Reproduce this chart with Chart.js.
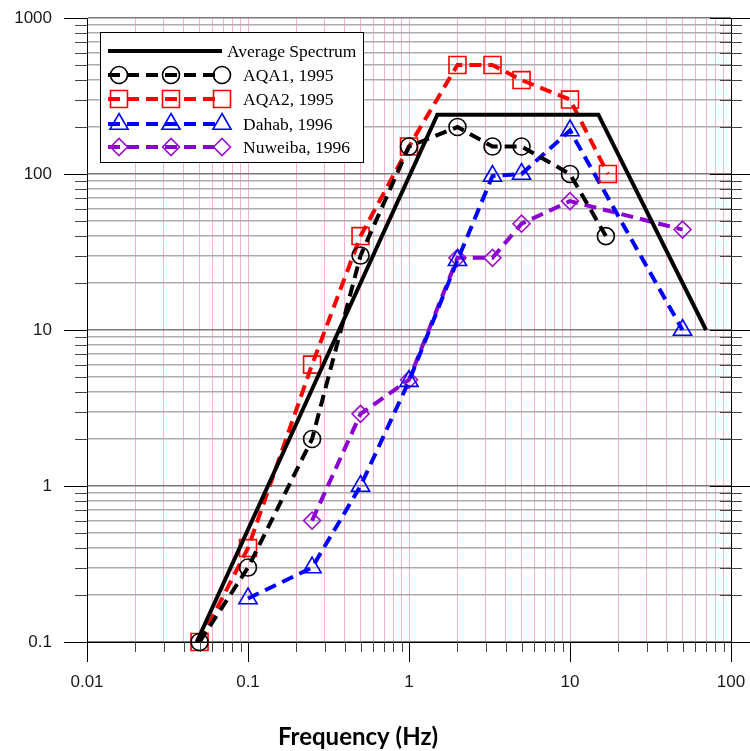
<!DOCTYPE html>
<html>
<head>
<meta charset="utf-8">
<title>Spectrum</title>
<script src="https://cdn.jsdelivr.net/npm/chart.js@4.4.1/dist/chart.umd.min.js"></script>
<style>
html, body { margin: 0; padding: 0; background: #fff; }
</style>
</head>
<body>
<canvas id="spectrumChart" width="750" height="751"></canvas>
<script>
// values
const avgFreq = [0.048, 1.5, 15, 70];
const avgAmp = [0.1, 240, 240, 10];
const aqa1Freq = [0.05, 0.1, 0.25, 0.5, 1, 2, 3.3, 5, 10, 16.7];
const aqa1Amp = [0.1, 0.3, 2, 30, 150, 200, 150, 150, 100, 40];
const aqa2Freq = [0.05, 0.1, 0.25, 0.5, 1, 2, 3.3, 5, 10, 17.2];
const aqa2Amp = [0.1, 0.4, 6, 40, 150, 500, 500, 400, 300, 100];
const dahabFreq = [0.1, 0.25, 0.5, 1, 2, 3.3, 5, 10, 50];
const dahabAmp = [0.19, 0.3, 1, 4.7, 28, 97, 100, 190, 10];
const nuweibaFreq = [0.25, 0.5, 1, 2, 3.3, 5, 10, 50];
const nuweibaAmp = [0.6, 2.9, 4.8, 29, 29, 48, 67, 44];
const seriesNames = ['Average Spectrum', 'AQA1, 1995', 'AQA2, 1995', 'Dahab, 1996', 'Nuweiba, 1996'];
const xTickLabels = ['0.01', '0.1', '1', '10', '100'];
const yTickLabels = ['0.1', '1', '10', '100', '1000'];
const xAxisTitle = 'Frequency (Hz)';

function toPoints(xs, ys) {
	return xs.map((v, i) => ({ x: v, y: ys[i] }));
}

// 1..9 in every decade between two labels
function logTicks(labels) {
	let vals = [];
	let lo = Math.log10(parseFloat(labels[0]));
	let hi = Math.log10(parseFloat(labels[labels.length - 1]));
	for (let e = lo; e < hi; e++) {
		for (let m = 1; m < 10; m++) vals.push(parseFloat((m * Math.pow(10, e)).toPrecision(3)));
	}
	vals.push(parseFloat(labels[labels.length - 1]));
	return vals;
}
function isDecade(v) {
	let l = Math.log10(v);
	return Math.abs(l - Math.round(l)) < 1e-6;
}

const dash = [12, 7];
const purple = '#8a00d0';

function markerSet(color, style, r) {
	return {
		pointStyle: style,
		pointRadius: r,
		pointHoverRadius: r,
		pointBorderColor: color,
		pointBackgroundColor: 'rgba(0,0,0,0)',
		pointBorderWidth: 1.6
	};
}

const datasets = [
	Object.assign({ label: seriesNames[0], data: toPoints(avgFreq, avgAmp), borderColor: '#000', borderWidth: 4, pointRadius: 0 }),
	Object.assign({ label: seriesNames[1], data: toPoints(aqa1Freq, aqa1Amp), borderColor: '#000', borderWidth: 4, borderDash: dash }, markerSet('#000', 'circle', 8.5)),
	Object.assign({ label: seriesNames[2], data: toPoints(aqa2Freq, aqa2Amp), borderColor: '#ff0000', borderWidth: 4, borderDash: dash }, markerSet('#ff0000', 'rect', 12)),
	Object.assign({ label: seriesNames[3], data: toPoints(dahabFreq, dahabAmp), borderColor: '#0000ff', borderWidth: 4, borderDash: dash }, markerSet('#0000ff', 'triangle', 10.5)),
	Object.assign({ label: seriesNames[4], data: toPoints(nuweibaFreq, nuweibaAmp), borderColor: purple, borderWidth: 4, borderDash: dash }, markerSet('#9a10cc', 'rectRot', 8.5))
];
datasets.forEach(d => { d.fill = false; d.tension = 0; d.clip = false; });

function crisp(v) { return Math.round(v) + 0.5; }
function seg(ctx, x1, y1, x2, y2) {
	ctx.beginPath();
	ctx.moveTo(x1, y1);
	ctx.lineTo(x2, y2);
	ctx.stroke();
}
function noPad(s) {
	s.paddingTop = 0; s.paddingBottom = 0; s.paddingLeft = 0; s.paddingRight = 0;
}

// tick marks: outward on left, downward on bottom, crossing on right
const axisTicks = {
	id: 'axisTicks',
	afterDraw(chart) {
		const ctx = chart.ctx;
		const a = chart.chartArea;
		const sx = chart.scales.x, sy = chart.scales.y;
		ctx.save();
		ctx.lineWidth = 1;
		ctx.strokeStyle = '#000';
		seg(ctx, crisp(a.right), a.top, crisp(a.right), a.bottom + 20);
		seg(ctx, crisp(a.left), a.top, crisp(a.left), a.bottom + 20);
		sx.ticks.forEach(t => {
			let px = crisp(sx.getPixelForValue(t.value));
			let major = isDecade(t.value);
			ctx.strokeStyle = major ? '#000' : '#444';
			seg(ctx, px, a.bottom, px, a.bottom + (major ? 20 : 10));
		});
		sy.ticks.forEach(t => {
			let py = crisp(sy.getPixelForValue(t.value));
			let major = isDecade(t.value);
			ctx.strokeStyle = major ? '#000' : '#444';
			seg(ctx, a.left - (major ? 23 : 12), py, a.left, py);
			seg(ctx, a.right - (major ? 21 : 11), py, a.right + (major ? 21 : 11), py);
		});
		ctx.fillStyle = '#000';
		ctx.font = 'bold 24px Lato';
		ctx.textAlign = 'center';
		ctx.textBaseline = 'middle';
		ctx.fillText(xAxisTitle, 358, 737);
		ctx.restore();
	}
};

const legendBox = {
	id: 'legendBox',
	afterDatasetsDraw(chart) {
		const ctx = chart.ctx;
		const rows = [51, 75, 99, 124, 147];
		ctx.save();
		ctx.fillStyle = '#fff';
		ctx.fillRect(100.5, 32.5, 263, 130);
		ctx.strokeStyle = '#000';
		ctx.lineWidth = 1;
		ctx.strokeRect(100.5, 32.5, 263, 130);
		chart.data.datasets.forEach((ds, i) => {
			let y = rows[i];
			ctx.strokeStyle = ds.borderColor;
			ctx.lineWidth = ds.borderWidth;
			ctx.setLineDash(ds.borderDash || []);
			seg(ctx, 108, y, 222, y);
			ctx.setLineDash([]);
			let tx = 227;
			if (ds.pointRadius > 0) {
				tx = 243;
				[119, 171, 222].forEach(px => {
					ctx.strokeStyle = ds.pointBorderColor;
					ctx.fillStyle = 'rgba(0,0,0,0)';
					ctx.lineWidth = ds.pointBorderWidth;
					Chart.helpers.drawPoint(ctx, { pointStyle: ds.pointStyle, radius: ds.pointRadius, borderWidth: ds.pointBorderWidth, rotation: 0 }, px, y);
				});
			}
			ctx.fillStyle = '#000';
			ctx.font = '17.5px "Liberation Serif"';
			ctx.textAlign = 'left';
			ctx.textBaseline = 'middle';
			ctx.fillText(ds.label, tx, y + 1);
		});
		ctx.restore();
	}
};

const xVals = logTicks(xTickLabels);
const yVals = logTicks(yTickLabels);

let ctx = document.getElementById('spectrumChart').getContext('2d');
let spectrumGraph = new Chart(ctx, {
	type: 'line',
	data: { datasets: datasets },
	options: {
		responsive: false,
		animation: false,
		events: [],
		layout: { padding: { top: 18, right: 19, left: 0, bottom: 0 } },
		plugins: { legend: { display: false }, tooltip: { enabled: false } },
		scales: {
			x: {
				type: 'logarithmic',
				min: 0.01,
				max: 100,
				afterBuildTicks: s => { s.ticks = xVals.map(v => ({ value: v })); },
				afterFit: s => { s.height = 109; noPad(s); },
				ticks: {
					autoSkip: false,
					maxRotation: 0,
					padding: 30,
					color: '#1a1a1a',
					font: { family: '"Liberation Sans"', size: 17 },
					callback: v => xTickLabels.includes(String(v)) ? String(v) : ''
				},
				grid: {
					drawTicks: false,
					color: 'rgba(240,110,175,0.55)',
					lineWidth: 1
				},
				border: { color: '#000', width: 1 }
			},
			y: {
				type: 'logarithmic',
				min: 0.1,
				max: 1000,
				afterBuildTicks: s => { s.ticks = yVals.map(v => ({ value: v })); },
				afterFit: s => { s.width = 87; noPad(s); },
				ticks: {
					autoSkip: false,
					padding: 35,
					color: '#1a1a1a',
					font: { family: '"Liberation Sans"', size: 17 },
					callback: v => yTickLabels.includes(String(v)) ? String(v) : ''
				},
				grid: {
					drawTicks: false,
					color: c => isDecade(c.tick.value) ? '#7a7a7a' : '#ababab',
					lineWidth: 1.5
				},
				border: { color: '#000', width: 1 }
			}
		}
	},
	plugins: [legendBox, axisTicks]
});
</script>
</body>
</html>
